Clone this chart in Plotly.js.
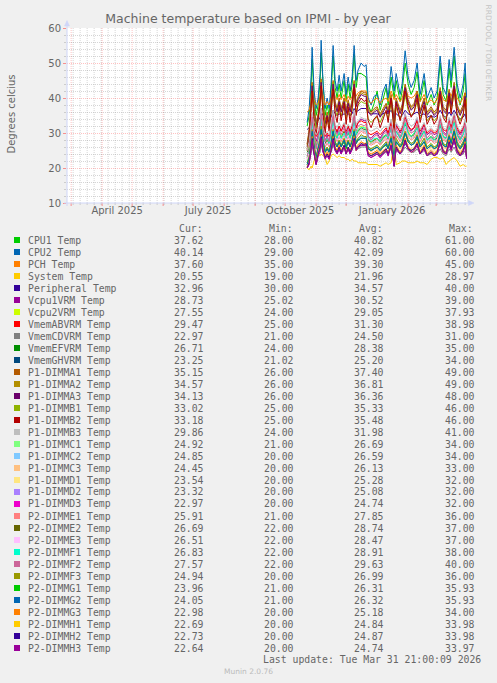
<!DOCTYPE html>
<html><head><meta charset="utf-8">
<script src="https://cdn.plot.ly/plotly-3.0.1.min.js"></script>
<style>html,body{margin:0;padding:0;background:#F0F0F0;}#chart{width:497px;height:683px;}</style>
</head><body><div id="chart"></div>
<script>
const dates = ['2025-10-23','2025-10-25','2025-10-27','2025-10-28','2025-10-30','2025-11-01','2025-11-03','2025-11-05','2025-11-06','2025-11-08',
'2025-11-10','2025-11-12','2025-11-14','2025-11-16','2025-11-18','2025-11-20','2025-11-22','2025-11-24','2025-11-26','2025-11-29',
'2025-12-01','2025-12-03','2025-12-05','2025-12-07','2025-12-09','2025-12-11','2025-12-13','2025-12-16','2025-12-19','2025-12-21',
'2025-12-23','2025-12-26','2025-12-29','2026-01-01','2026-01-04','2026-01-07','2026-01-10','2026-01-12','2026-01-15','2026-01-18',
'2026-01-20','2026-01-24','2026-01-26','2026-01-29','2026-02-01','2026-02-04','2026-02-07','2026-02-10','2026-02-13','2026-02-17',
'2026-02-20','2026-02-24','2026-02-27','2026-03-02','2026-03-05','2026-03-08','2026-03-11','2026-03-14','2026-03-16','2026-03-19',
'2026-03-22','2026-03-25','2026-03-28','2026-03-30','2026-03-31 12:00'];

const cpu1 = [32,35,44,51,40,35,38,45,53,42, 35,38,35,42,52,43,40,44,40,45, 39,44,40,44,52.5,43,47,47,46.5,46, 38,36,38.5,42,36.5,40,43,38,46,40, 45,39,42,50,44,41,43,47.5,39,45, 38,41,38,40,50,41,39,48.5,43,52, 42,38,42,47,37.6];
const cpu2 = [33,37,46,54.5,42,37,40,47,56.5,44, 37,40,37,44,55,45,42,46.5,42,47, 41,46,42,46,55,45,48,50,49,49.5, 40,38,40.5,41,38,42,44,40,49,42, 47,41,44,53.5,46,43,45,50,41,47, 40,43,40,42,52,43,41,51,45,54.5, 44,40,44,50,40.1];
const pch = [36,36.5,39,42,39.5,38,38.5,40.5,43,40, 38,39,38,40,43,40.5,39.5,41,39.5,41, 39,40.5,39.5,40.5,43.5,40.5,41.5,42,42,42, 39,38.5,39.5,40,38.5,39.5,40,39,42,39.5, 41,39,40,43,40.5,40,40.5,42,39,41, 38.5,39.5,38.5,39.5,42.5,39.5,39,42,40.5,43, 40,38.5,40,41.5,37.6];
const system = [20,19.5,20.5,20,22,24.5,24,23.5,24,23.5, 23,21,22,23.5,24,23.5,23,23.5,23,23, 22.5,22.5,22,22.5,22,22,21.5,21.5,21.5,21.5, 21,21,21,21,20.5,21,21.5,21,21.5,28.5, 21,21.5,22,22,21.5,21.5,21.5,22,21.5,21.5, 21,22.5,23,23,22.5,23,21,22,22.5,23, 22,20.5,21,20.5,20.55];
const peripheral = [31,31.5,33,35,34,33,33.5,34.5,36,35, 34,34,33.5,34.5,36.5,35.5,35,35.5,35,35.5, 35,35.5,35,35.5,37,36,36.5,37,37,37, 36,35.5,35.5,35.5,35,35.5,36,35.5,36.5,35, 35.5,34.5,35,36.5,35.5,35,35.5,36,35,35.5, 34.5,35,34.5,35,36.5,35,34.5,36,35,36.5, 35,34,34.5,35.5,33];
const vcpu1 = [25.5,27,32,35.5,30,27.5,29.5,32,37,31, 27.5,29.5,27,31,36,31.5,30,32,30.5,32.5, 29.5,32,30,32,36,31.5,33,34,33.5,33.5, 29,28.5,29.5,30,28.5,30,31,29.5,33.5,27, 32.5,30,31,35.5,32,30.5,31.5,34,29.5,32.5, 29.5,30.5,29.5,30,34.5,30.5,29.5,34,31.5,35.5, 31,29.5,31,33.5,28.7];
const vcpu2 = [25,26.5,30.5,33.5,29,27,28,30.5,34.5,29.5, 26.5,28,26.5,29.5,34,30,29,30.5,29,30.5, 28.5,30,29,30.5,33.5,30,31,32,31.5,31.5, 28,27,28,28.5,27,29,29.5,28,31.5,26, 30.5,28.5,29.5,33,30.5,29,30,32,28.5,30.5, 28,29,28,29,32.5,29,28.5,32,30,33.5, 29.5,28,29.5,31.5,27.5];
const vmemAB = [27,28.5,32,35,30.5,29,30,32.5,35.5,31.5, 29,30,29,31.5,35,31.5,30.5,32,30.5,32.5, 30.5,32,30.5,32,35,31.5,33,33.5,33,33, 30,29.5,30,30.5,29.5,30.5,31.5,30,33,28, 32,30.5,31.5,34.5,32,31,31.5,33.5,30.5,32.5, 30,31,30,30.5,34,31,30.5,33.5,31.5,35, 31.5,30,31.5,33,29.5];
const vmemCD = [22,22.5,24,26,24,23,23.5,24.5,26.5,24.5, 23.5,24,23.5,24.5,26.5,25,24.5,25,24.5,25, 24.5,25,24.5,25,27,25,25.5,26,26,26, 24,23.5,24,24,23.5,24,24.5,24,25.5,22.5, 25,24,24.5,26,25,24.5,24.5,25.5,24,25, 23.5,24,23.5,24,25.5,24,23.5,25.5,24.5,26, 24,23.5,24,25,23];
const vmemEF = [24.5,25.5,29.5,32,28,26.5,27.5,30,33,28.5, 26.5,27.5,26.5,29,32.5,29,28,29.5,28,30, 28,29.5,28,29.5,32.5,29,30,31,30.5,30.5, 27.5,27,27.5,28,27,28,29,27.5,30.5,25.5, 29.5,28,29,32,29.5,28.5,29,31,28,30, 27.5,28.5,27.5,28,31.5,28.5,28,31,29,32.5, 29,27.5,29,30.5,26.7];
const vmemGH = [21.5,22.5,25.5,27.5,24.5,23.5,24,26,28,25, 23.5,24,23.5,25,27.5,25.5,24.5,25.5,24.5,26, 24.5,25.5,24.5,25.5,27.5,25.5,26,26.5,26.5,26.5, 24,23.5,24,24.5,23.5,24.5,25,24,26.5,22, 25.5,24.5,25,27,25.5,25,25.5,26.5,24.5,25.5, 24,24.5,24,24.5,27,24.5,24.5,26.5,25.5,27.5, 25,24,25,26.5,23.3];
const p1a1 = [27,31,39.5,44.5,37,33,35.5,40,45.5,38, 33.5,36,33.5,38.5,45,39,37,40,37,40, 36.5,39.5,37,39.5,45,38.5,40.5,42,41.5,41.5, 37,36,37,37.5,35.5,37,38.5,36.5,41,34, 40,36.5,38,44,39.5,37.5,38.5,42,36.5,40, 36,37.5,36,37,43,37.5,36.5,42.5,38.5,44.5, 38,36,38,41.5,35.2];
const p1a2 = [26.5,30.5,38.5,44,36.5,32.5,35,39.5,45,37.5, 33,35.5,33,38,44.5,38.5,36.5,39.5,36.5,39.5, 36,39,36.5,39,44.5,38,40,41.5,41,41, 36.5,35.5,36.5,37,35,36.5,38,36,40.5,33.5, 39.5,36,37.5,43.5,39,37,38,41.5,36,39.5, 35.5,37,35.5,36.5,42.5,37,36,42,38,44, 37.5,35.5,37.5,41,34.6];
const p1a3 = [26,30,38,43.5,36,32,34.5,39,44.5,37, 32.5,35,32.5,37.5,44,38,36,39,36,39, 35.5,38.5,36,38.5,44,37.5,39.5,41,40.5,40.5, 36,35,36,36.5,34.5,36,37.5,35.5,40,33, 39,35.5,37,43,38.5,36.5,37.5,41,35.5,39, 35,36.5,35,36,42,36.5,35.5,41.5,37.5,43.5, 37,35,37,40.5,34.1];
const p1b1 = [25.5,29,36.5,41.5,35,31.5,33.5,37.5,42.5,36, 31.5,34,31.5,36,42,36.5,35,37,35,37.5, 34,36.5,35,36.5,42,36,38,39,38.5,38.5, 34,33,34,34.5,33,35,36,34,38.5,31.5, 37.5,34,35.5,41,36.5,35,36,39,34,37.5, 33.5,35,33.5,34.5,40,35,34,39.5,36,41.5, 35.5,33.5,35.5,39,33];
const p1b2 = [25,28.5,37,42,33,29.5,34,38.5,43.5,35, 30,34.5,30.5,37,42.5,35.5,33,38,33.5,38.5, 32.5,37.5,33,37.5,43,35,38.5,40,39,39.5, 33.5,31.5,34,35,31.5,34,36.5,33,40,30, 38.5,33.5,36,42,37.5,34.5,36,40,33,38, 32.5,35,32.5,34,41,34.5,33,40.5,35.5,42.5, 35,32.5,35,39.5,33.2];
const p1b3 = [25,27.5,32.5,36,31,29.5,30.5,33,37,31.5, 29.5,30.5,29.5,32,36.5,32.5,31.5,33,31.5,33, 31,32.5,31.5,32.5,36.5,32.5,33.5,34.5,34,34, 31,30.5,31,31.5,30.5,31.5,32,31,34,29, 33,31,32,35.5,33,32,32.5,34.5,31,33, 30.5,31.5,30.5,31,35,31.5,31,34.5,32.5,36, 32,30.5,32,34,29.9];
const p1c1 = [22,23.5,28,30.5,26.5,23,26,28,31.5,27.5, 25,26,24.5,27,31,27.5,26.5,28,26.5,28.5, 26,28,26.5,28,31,27.5,28.5,29,29,29, 26,25.5,26,26.5,25.5,26.5,27.5,26,29,23, 28,26.5,27.5,30.5,28,27,27.5,29.5,26.5,28.5, 26,27,26,26.5,30,27,26.5,29.5,27.5,31, 27.5,26,27.5,29,24.9];
const p1c2 = [21.5,23,27.5,30.5,26.5,22.5,25.5,28,31,27, 24.5,25.5,24.5,27,30.5,27.5,26.5,28,26.5,28, 26,27.5,26.5,28,30.5,27.5,28.5,29,29,29, 26,25,26,26,25,26.5,27,26,29,22.5, 28,26,27,30,28,27,27.5,29,26,28, 25.5,26.5,25.5,26.5,30,26.5,26,29.5,27.5,30.5, 27,25.5,27,29,24.85];
const p1c3 = [21,22.5,27,30,26,22,25,27.5,30.5,26.5, 24,25,24,26.5,30,27,26,27.5,26,27.5, 25.5,27,26,27.5,30,27,28,28.5,28.5,28.5, 25.5,24.5,25.5,25.5,24.5,26,26.5,25.5,28.5,22, 27.5,25.5,26.5,29.5,27.5,26.5,27,28.5,25.5,27.5, 25,26,25,26,29.5,26,25.5,29,27,30, 26.5,25,26.5,28.5,24.45];
const p1d1 = [20.5,22,26,29,25,21.5,24.5,26.5,29.5,25.5, 23.5,24.5,23.5,25.5,29,26,25,26.5,25,26.5, 24.5,26,25,26.5,29,26,27,27.5,27,27.5, 24.5,24,24.5,25,24,25,25.5,24.5,27,21.5, 26.5,24.5,25.5,28.5,26,25.5,26,27.5,24.5,26.5, 24.5,25.5,24.5,25,28,25.5,24.5,28,26,29, 25.5,24.5,25.5,27.5,23.5];
const p1d2 = [20.5,21.5,26,28.5,24.5,21.5,24,26.5,29,25, 23,24,23,25.5,28.5,25.5,24.5,26,24.5,26.5, 24.5,26,24.5,26,28.5,25.5,26.5,27,27,27, 24,23.5,24,24.5,23.5,24.5,25.5,24,27,21, 26,24.5,25.5,28,26,25,25.5,27,24.5,26, 24,25,24,24.5,28,25,24.5,27.5,25.5,28.5, 25.5,24,25.5,27,23.3];
const p1d3 = [20,21,25.5,28,24,21,23.5,26,28.5,24.5, 23,23.5,22.5,25,28,25,24,25.5,24,26, 24,25.5,24,25.5,28,25,26,26.5,26.5,26.5, 23.5,23,23.5,24,23,24,25,23.5,26.5,20.5, 25.5,24,25,27.5,25.5,24.5,25,26.5,24,25.5, 23.5,24.5,23.5,24,27.5,24.5,24,27,25,28, 24.5,23.5,24.5,26.5,23];
const p2e1 = [22.5,24,29,32,27.5,24,27,29.5,33,28.5, 26,27,26,28.5,32,28.5,27.5,29,27.5,29.5, 27.5,29,27.5,29,32,28.5,29.5,30.5,30,30, 27,26.5,27,27.5,26.5,27.5,28.5,27,30,24, 29.5,27.5,28.5,31.5,29,28,28.5,30.5,27.5,29.5, 27,28,27,27.5,31,28,27.5,30.5,28.5,32, 28.5,27,28.5,30,25.9];
const p2e2 = [23,25,30,33,28.5,25,28,30.5,34,29.5, 27,28,27,29.5,33,29.5,28.5,30,28.5,30.5, 28.5,30,28.5,30,33,29.5,30.5,31.5,31,31, 28,27.5,28,28.5,27.5,28.5,29.5,28,31,25, 30.5,28.5,29.5,32.5,30,29,29.5,31.5,28.5,30.5, 28,29,28,28.5,32,29,28.5,31.5,29.5,33, 29.5,28,29.5,31,26.7];
const p2e3 = [22.5,24.5,29.5,32.5,28,24.5,27.5,30,33.5,29, 26.5,27.5,26.5,29,32.5,29,28,29.5,28,30, 28,29.5,28,29.5,32.5,29,30,31,30.5,30.5, 27.5,27,27.5,28,27,28,29,27.5,30.5,24.5, 30,28,29,32,29.5,28.5,29,31,28,30, 27.5,28.5,27.5,28,31.5,28.5,28,31,29,32.5, 29,27.5,29,30.5,26.5];
const p2f1 = [23.5,25,30.5,33,28,25.5,28.5,30.5,34,29, 27.5,28.5,27,29.5,33.5,29.5,28.5,30.5,28.5,30, 28.5,30.5,28.5,30,33.5,29.5,31,31.5,31.5,31, 28.5,27.5,28.5,28.5,27.5,29,29.5,28.5,31.5,25, 30.5,28.5,29.5,33,30,29,30,31.5,28.5,30.5, 28,29,28,29,32.5,29,28.5,32,30,33, 29.5,28,29.5,31.5,26.8];
const p2f2 = [23.5,25.5,31,34.5,29.5,25.5,29,31.5,35.5,30.5, 27.5,29,27.5,30.5,34.5,30.5,29.5,31,29.5,31.5, 29,31,29.5,31,34.5,30.5,32,32.5,32,32.5, 29,28,29,29.5,28,29.5,30.5,29,32,25.5, 31.5,29,30.5,34,31,30,30.5,32.5,29,31.5, 28.5,30,28.5,29.5,33.5,30,29,33,30.5,34.5, 30.5,28.5,30.5,32.5,27.6];
const p2f3 = [21.5,23,28,31,26.5,23,26,28.5,32,27.5, 25,26,25,27.5,31,27.5,26.5,28,26.5,28.5, 26.5,28,26.5,28,31,27.5,28.5,29.5,29,29, 26,25.5,26,26.5,25.5,26.5,27.5,26,29,23, 28.5,26.5,27.5,30.5,28,27,27.5,29.5,26.5,28.5, 26,27,26,26.5,30,27,26.5,29.5,27.5,31, 27.5,26,27.5,29,24.9];
const p2g1 = [21,22.5,27.5,30,26,22.5,25.5,27.5,31,26.5, 24.5,25.5,24.5,26.5,30.5,27,26,27.5,26,27.5, 25.5,27.5,26,27.5,30.5,27,28,28.5,28.5,28.5, 25.5,25,25.5,26,25,26,26.5,25.5,28.5,22.5, 27.5,26,26.5,30,27.5,26.5,27,28.5,26,27.5, 25.5,26.5,25.5,26,29.5,26.5,26,29,27,30.5, 26.5,25.5,26.5,28.5,24];
const p2g2 = [21,22.5,27,30.5,26,22.5,25.5,28,31,27, 24.5,25.5,24.5,27,30.5,27,26,27.5,26,28, 26,27.5,26,27.5,30.5,27,28,28.5,28.5,28.5, 25.5,25,25.5,26,25,26,27,25.5,28.5,22.5, 27.5,26,27,30,27.5,26.5,27,29,26,27.5, 25.5,26.5,25.5,26,29.5,26.5,26,29,27,30.5, 27,25.5,27,28.5,24.05];
const p2g3 = [20.5,21.5,26,29,25,21.5,24.5,26.5,29.5,25.5, 23.5,24.5,23.5,25.5,29,26,25,26.5,25,26.5, 24.5,26,25,26.5,29,25.5,26.5,27.5,27,27, 24.5,24,24.5,25,24,25,25.5,24.5,27,21, 26.5,24.5,25.5,28.5,26,25,25.5,27.5,24.5,26.5, 24,25,24,25,28,25,24.5,28,25.5,29, 25.5,24,25.5,27.5,23];
const p2h1 = [20,21.5,25.5,28.5,24.5,21,24,26,29,25, 23,24,23,25,28.5,25.5,24.5,26,24.5,26, 24,25.5,24.5,26,28.5,25,26,27,26.5,26.5, 24,23.5,24,24.5,23.5,24.5,25,24,26.5,20.5, 26,24,25,28,25.5,24.5,25,27,24,26, 23.5,24.5,23.5,24.5,27.5,24.5,24,27.5,25,28.5, 25,23.5,25,27,22.7];
const p2h2 = [20,21.5,25.5,28.5,24,21,24,26,29,25, 23,24,23,25,28.5,25.5,24.5,26,24.5,26.5, 24,26,24.5,26,28.5,25.5,26,27,26.5,27, 24,23.5,24,24.5,23.5,24.5,25.5,24,26.5,20.5, 26,24,25,28,25.5,25,25.5,27,24,26, 23.5,24.5,23.5,24.5,27.5,25,24,27.5,25.5,28.5, 25,23.5,25,27,22.7];
const p2h3 = [20,21,25.5,28,24,21,23.5,26,28.5,24.5, 22.5,23.5,22.5,25,28,25,24,25.5,24,26, 24,25.5,24,25.5,28,25,26,26.5,26.5,26.5, 23.5,23,23.5,24,23,24,25,23.5,26.5,20.5, 25.5,24,25,27.5,25.5,24.5,25,26.5,24,25.5, 23.5,24.5,23.5,24,27.5,24.5,24,27,25,28, 24.5,23.5,24.5,26.5,22.6];

const seriesNames = ['CPU1 Temp','CPU2 Temp','PCH Temp','System Temp','Peripheral Temp','Vcpu1VRM Temp','Vcpu2VRM Temp','VmemABVRM Temp','VmemCDVRM Temp','VmemEFVRM Temp','VmemGHVRM Temp',
'P1-DIMMA1 Temp','P1-DIMMA2 Temp','P1-DIMMA3 Temp','P1-DIMMB1 Temp','P1-DIMMB2 Temp','P1-DIMMB3 Temp','P1-DIMMC1 Temp','P1-DIMMC2 Temp','P1-DIMMC3 Temp','P1-DIMMD1 Temp','P1-DIMMD2 Temp','P1-DIMMD3 Temp',
'P2-DIMME1 Temp','P2-DIMME2 Temp','P2-DIMME3 Temp','P2-DIMMF1 Temp','P2-DIMMF2 Temp','P2-DIMMF3 Temp','P2-DIMMG1 Temp','P2-DIMMG2 Temp','P2-DIMMG3 Temp','P2-DIMMH1 Temp','P2-DIMMH2 Temp','P2-DIMMH3 Temp'];
const seriesValues = [cpu1,cpu2,pch,system,peripheral,vcpu1,vcpu2,vmemAB,vmemCD,vmemEF,vmemGH,p1a1,p1a2,p1a3,p1b1,p1b2,p1b3,p1c1,p1c2,p1c3,p1d1,p1d2,p1d3,p2e1,p2e2,p2e3,p2f1,p2f2,p2f3,p2g1,p2g2,p2g3,p2h1,p2h2,p2h3];
const legendCur = ['37.62','40.14','37.60','20.55','32.96','28.73','27.55','29.47','22.97','26.71','23.25','35.15','34.57','34.13','33.02','33.18','29.86','24.92','24.85','24.45','23.54','23.32','22.97','25.91','26.69','26.51','26.83','27.57','24.94','23.96','24.05','22.98','22.69','22.73','22.64'];
const legendMin = ['28.00','29.00','35.00','19.00','30.00','25.02','24.00','25.00','21.00','24.00','21.02','26.00','26.00','26.00','25.00','25.00','24.00','21.00','20.00','20.00','20.00','20.00','20.00','21.00','22.00','22.00','22.00','22.00','20.00','21.00','21.00','20.00','20.00','20.00','20.00'];
const legendAvg = ['40.82','42.09','39.30','21.96','34.57','30.52','29.05','31.30','24.50','28.38','25.20','37.40','36.81','36.36','35.33','35.48','31.98','26.69','26.59','26.13','25.28','25.08','24.74','27.85','28.74','28.47','28.91','29.63','26.99','26.31','26.32','25.18','24.84','24.87','24.74'];
const legendMax = ['61.00','60.00','45.00','28.97','40.00','39.00','37.93','38.98','31.00','35.00','34.00','49.00','49.00','48.00','46.00','46.00','41.00','34.00','34.00','33.00','32.00','32.00','32.00','36.00','37.00','37.00','38.00','40.00','36.00','35.93','35.93','34.00','33.98','33.98','33.97'];
const legendHeaders = ['Cur:','Min:','Avg:','Max:'];
const xTickDates = ['2025-04-16','2025-07-16','2025-10-16','2026-01-16'];
const xTickText = ['April 2025','July 2025','October 2025','January 2026'];
const yRange = [10, 60];
const xRange = ['2025-02-24 21:00','2026-03-31 21:00'];

// styles
const seriesColors = ['#00CC00','#0066B3','#FF8000','#FFCC00','#330099','#990099','#CCFF00','#FF0000','#808080','#008F00','#00487D',
'#B35A00','#B38F00','#6B006B','#8FB300','#B30000','#BEBEBE','#80FF80','#80C9FF','#FFC080','#FFE680','#AA80FF','#EE00CC',
'#FF8080','#666600','#FFBFFF','#00FFCC','#CC6699','#999900','#00CC00','#0066B3','#FF8000','#FFCC00','#330099','#990099'];

const W = 497, H = 683, ML = 67, MR = 30, MT = 28, MB = 480;
const PW = W - ML - MR, PH = H - MT - MB, BOT = H - MB;
const px = x => (x - ML) / PW;
const py = y => (BOT - y) / PH;
const FONT = '#666666', AXIS = '#CFD6F8';
const MGRID = 'rgba(255,0,0,0.24)', GRID = 'rgba(128,128,128,0.32)';
const mono = 'DejaVu Sans Mono', sans = 'DejaVu Sans';

const traces = seriesNames.map((n, i) => ({
  type: 'scatter', mode: 'lines', name: n, x: dates, y: seriesValues[i],
  line: {color: seriesColors[i], width: 1}, hoverinfo: 'skip', showlegend: false
}));

const shapes = [];
const iso = t => new Date(t).toISOString().slice(0, 10);
const endT = Date.parse('2026-03-31T21:00:00Z');
// weekly minor grid (Mondays)
for (let t = Date.UTC(2025, 2, 3); t < endT; t += 7 * 86400000) {
  const d = iso(t);
  shapes.push({type:'line', xref:'x', yref:'paper', x0:d, x1:d, y0:0, y1:1, layer:'below', line:{color:GRID, width:1, dash:'1px,1px'}});
  shapes.push({type:'line', xref:'x', yref:'paper', x0:d, x1:d, y0:py(BOT), y1:py(BOT+2), line:{color:GRID, width:1}});
}
// monthly major grid
for (let k = 0; k <= 12; k++) {
  const d = iso(Date.UTC(2025, 2 + k, 1));
  shapes.push({type:'line', xref:'x', yref:'paper', x0:d, x1:d, y0:0, y1:1, layer:'below', line:{color:MGRID, width:1, dash:'1px,1px'}});
  shapes.push({type:'line', xref:'x', yref:'paper', x0:d, x1:d, y0:py(BOT), y1:py(BOT+3), line:{color:'rgba(255,0,0,0.4)', width:1}});
}
// axes with arrows
shapes.push({type:'line', xref:'paper', yref:'paper', x0:px(67), x1:px(67), y0:py(206), y1:py(24), line:{color:AXIS, width:1}});
shapes.push({type:'line', xref:'paper', yref:'paper', x0:px(64), x1:px(470), y0:0, y1:0, line:{color:AXIS, width:1}});
shapes.push({type:'path', xref:'paper', yref:'paper', path:`M${px(64.5)},${py(26)} L${px(69.5)},${py(26)} L${px(67)},${py(20.5)} Z`, fillcolor:AXIS, line:{color:AXIS, width:0.5}});
shapes.push({type:'path', xref:'paper', yref:'paper', path:`M${px(468.5)},${py(200.5)} L${px(468.5)},${py(205.5)} L${px(474)},${py(203)} Z`, fillcolor:AXIS, line:{color:AXIS, width:0.5}});

const annotations = [];
const ROW0 = 240, ROWH = 12;
const colRight = [206.3, 296.3, 386.3, 476.5];
const colHead = [176.5, 266.5, 356.5, 446.5];
legendHeaders.forEach((h, j) => annotations.push({xref:'paper', yref:'paper', x:px(colHead[j]), y:py(228.3), xanchor:'left', yanchor:'middle', showarrow:false, text:h, font:{family:mono, size:9.8, color:FONT}}));
seriesNames.forEach((n, i) => {
  const yy = ROW0 + ROWH * i;
  shapes.push({type:'rect', xref:'paper', yref:'paper', x0:px(14), x1:px(20), y0:py(yy + 3), y1:py(yy - 3), fillcolor:seriesColors[i], line:{width:0}});
  annotations.push({xref:'paper', yref:'paper', x:px(26.3), y:py(yy), xanchor:'left', yanchor:'middle', showarrow:false, text:n, font:{family:mono, size:9.8, color:FONT}});
  [legendCur[i], legendMin[i], legendAvg[i], legendMax[i]].forEach((v, j) => annotations.push({xref:'paper', yref:'paper', x:px(colRight[j]), y:py(yy), xanchor:'right', yanchor:'middle', showarrow:false, text:v, font:{family:mono, size:9.8, color:FONT}}));
});
annotations.push({xref:'paper', yref:'paper', x:px(482.7), y:py(659.7), xanchor:'right', yanchor:'middle', showarrow:false, text:'Last update: Tue Mar 31 21:00:09 2026', font:{family:mono, size:9.8, color:FONT}});
annotations.push({xref:'paper', yref:'paper', x:px(248), y:py(671.7), xanchor:'center', yanchor:'middle', showarrow:false, text:'Munin 2.0.76', font:{family:sans, size:7.5, color:'#BBBBBB'}});
annotations.push({xref:'paper', yref:'paper', x:px(10.5), y:py(114), xanchor:'center', yanchor:'middle', showarrow:false, textangle:-90, text:'Degrees celcius', font:{family:sans, size:10, color:FONT}});
annotations.push({xref:'paper', yref:'paper', x:px(488.5), y:py(53), xanchor:'center', yanchor:'middle', showarrow:false, textangle:90, text:'RRDTOOL / TOBI OETIKER', font:{family:sans, size:7.5, color:'#C4C4C4'}});

const layout = {
  width: W, height: H,
  margin: {l: ML, r: MR, t: MT, b: MB, pad: 0},
  paper_bgcolor: '#F0F0F0', plot_bgcolor: '#FFFFFF',
  showlegend: false, hovermode: false,
  title: {text: 'Machine temperature based on IPMI - by year', font: {family: sans, size: 12.5, color: FONT},
          xref: 'container', yref: 'container', x: 248 / W, xanchor: 'center', y: 1 - 19 / H, yanchor: 'middle'},
  xaxis: {type: 'date', range: xRange, tickmode: 'array', tickvals: xTickDates, ticktext: xTickText, ticks: '',
          showgrid: false, zeroline: false, showline: false, fixedrange: true,
          tickfont: {family: sans, size: 10, color: FONT}},
  yaxis: {range: yRange, tickmode: 'linear', tick0: 0, dtick: 10, ticks: 'outside', ticklen: 3, tickcolor: 'rgba(255,0,0,0.4)',
          showgrid: true, gridcolor: MGRID, griddash: '1px,1px', gridwidth: 1, zeroline: false, showline: false, fixedrange: true,
          tickfont: {family: sans, size: 10, color: FONT},
          minor: {tickmode: 'linear', tick0: 0, dtick: 2, showgrid: true, gridcolor: GRID, griddash: '1px,1px', ticks: 'outside', ticklen: 2, tickcolor: GRID}},
  shapes: shapes,
  annotations: annotations
};
Plotly.newPlot('chart', traces, layout, {staticPlot: true, displayModeBar: false});
</script>
</body></html>
